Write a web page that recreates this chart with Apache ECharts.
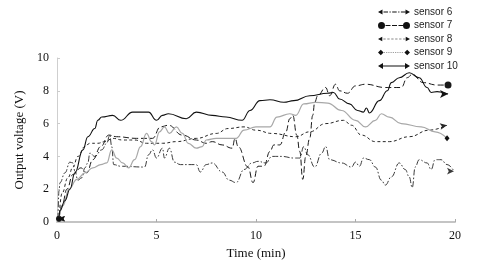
<!DOCTYPE html>
<html><head><meta charset="utf-8">
<script src="https://cdn.jsdelivr.net/npm/echarts@6/dist/echarts.min.js"></script>
<style>html,body{margin:0;padding:0;background:#fff}#c{width:480px;height:279px}</style>
</head><body><div id="c"></div>
<script>
// ---- data ----
const seriesNames = ['sensor 6','sensor 7','sensor 8','sensor 9','sensor 10'];
const xTicks = [0,5,10,15,20];
const yTicks = [0,2,4,6,8,10];

const t6 = [0.05,0.1,0.15,0.4,0.65,0.8,0.9,1.05,1.25,1.4,1.55,1.65,1.9,2.25,2.5,2.65,2.75,2.85,3.2,4.4,4.6,4.8,5.0,5.3,5.4,5.65,5.9,6.2,7.0,7.2,7.5,7.8,8.3,8.65,9.0,9.4,9.8,10.1,10.5,10.8,11.3,11.9,12.2,12.4,12.6,12.95,13.3,13.5,13.7,14.3,14.8,15.0,15.2,15.4,15.7,16.0,16.3,16.5,16.8,17.2,17.5,17.7,17.85,18.0,18.2,18.6,18.8,19.0,19.3,19.6,19.95];
const v6 = [0.2,1.9,2.4,3.0,3.65,3.6,3.1,2.55,2.7,3.3,3.6,4.2,4.0,4.4,4.8,5.3,4.6,3.5,3.4,3.35,4.1,4.4,3.9,4.5,3.9,4.5,3.65,3.5,3.5,3.05,3.5,3.6,3.05,2.55,2.4,3.2,3.6,3.7,3.6,4.0,4.0,3.9,3.9,4.6,4.1,3.35,4.2,4.6,3.8,3.6,3.35,3.65,3.4,3.9,3.8,3.35,2.55,2.25,2.75,3.6,3.2,2.75,2.1,3.35,3.8,3.6,3.2,3.8,3.8,3.5,3.1];

const t7 = [0.1,0.25,0.5,0.8,1.2,1.5,1.8,2.2,2.6,3.0,4.0,4.8,5.2,5.6,6.3,7.0,7.5,7.8,8.3,8.8,8.95,9.1,9.6,9.85,10.1,10.4,10.7,10.9,11.2,11.5,11.7,11.85,12.05,12.2,12.35,12.5,12.7,12.85,12.95,13.1,13.5,13.7,14.0,14.2,14.6,15.0,15.5,16.5,17.3,17.6,17.85,18.4,19.1,19.65];
const v7 = [0.2,1.0,2.0,2.9,3.3,3.0,3.8,4.6,5.3,5.2,5.1,5.1,5.8,5.9,5.3,5.0,4.8,4.9,4.7,4.5,5.1,4.6,3.35,2.4,3.4,3.4,4.3,4.7,4.7,5.5,6.3,6.5,5.3,4.3,2.6,4.0,5.1,6.5,7.3,7.7,8.2,7.7,8.4,8.0,7.85,8.3,8.4,8.2,8.2,8.8,9.0,8.5,8.35,8.35];

const t8 = [0.1,0.25,0.55,0.8,1.05,1.4,1.65,2.05,2.4,2.8,3.3,3.9,4.5,5.3,6.0,7.0,8.0,8.6,9.4,10.0,10.8,12.0,12.7,13.5,14.4,14.8,15.3,16.0,16.7,17.7,18.7,19.6];
const v8 = [0.2,1.75,2.7,3.35,4.0,4.6,4.8,4.8,4.9,5.1,5.0,5.0,4.8,4.8,4.9,5.1,5.4,5.7,5.8,5.6,5.4,5.2,5.5,6.0,6.2,5.9,5.3,4.9,4.9,5.2,5.6,5.9];

const t9 = [0.1,0.3,0.6,1.0,1.4,1.8,2.2,2.5,2.75,3.0,3.3,3.6,3.9,4.2,4.5,4.75,4.9,5.15,5.4,5.65,6.0,6.3,6.6,7.0,7.3,7.5,8.0,9.0,9.4,10.0,10.7,11.05,11.7,12.0,12.4,13.0,13.6,14.3,15.0,15.5,16.0,16.3,16.7,17.3,18.3,19.0,19.6];
const v9 = [0.2,1.0,2.0,2.6,3.0,3.3,3.5,3.6,4.4,3.9,3.6,3.3,3.8,4.6,5.4,4.9,4.7,5.5,5.8,5.4,5.8,5.4,4.8,4.5,4.6,5.0,5.1,5.1,5.6,5.8,5.8,6.4,6.6,6.5,7.2,7.3,7.25,6.8,6.2,5.8,6.2,6.6,6.4,6.0,5.8,5.5,5.1];

const t10 = [0.1,0.15,0.4,0.65,0.9,1.3,1.55,1.9,2.05,2.25,2.8,3.2,3.8,4.6,5.0,5.3,5.6,6.5,7.0,7.8,8.5,9.3,9.7,10.2,10.7,11.4,11.9,12.7,13.6,13.9,14.2,14.7,15.1,15.4,15.55,15.7,16.2,16.6,16.8,17.2,17.7,18.2,18.6,18.8,19.1,19.65];
const v10 = [0.2,0.7,1.3,2.0,3.0,4.4,5.2,5.7,6.2,6.4,6.5,6.2,6.7,6.7,6.2,6.5,6.6,6.3,6.7,6.5,6.4,6.2,6.8,7.4,7.45,7.3,7.4,7.7,7.85,7.9,7.5,7.2,6.8,6.7,6.95,6.65,7.4,8.0,8.5,8.8,9.1,8.8,8.2,7.9,7.95,7.8];

// ---- build ----
function pairs(t, v){ const n = Math.min(t.length, v.length); const out=[]; for(let i=0;i<n;i++) out.push([t[i], v[i]]); return out; }
function withEnds(d, startSym, endSym){
  const out = d.map(p => ({value:p}));
  out[0] = Object.assign({value:d[0]}, startSym);
  out[out.length-1] = Object.assign({value:d[d.length-1]}, endSym);
  return out;
}
const arrowR = (rot, size) => ({symbol:'arrow', symbolSize:size||[5,7], symbolRotate:rot});
const circ = {symbol:'circle', symbolSize:6};
const diam = {symbol:'diamond', symbolSize:[5,6]};

const lineDefs = [
  {t:t6, v:v6, color:'#3a3a3a', type:[6,2,1.5,2], width:1, s:arrowR(90,[4,6]), e:arrowR(-90)},
  {t:t7, v:v7, color:'#1a1a1a', type:[6,3], width:1, s:circ, e:{symbol:'circle', symbolSize:7}},
  {t:t8, v:v8, color:'#262626', type:[3,2.5], width:1, s:arrowR(90,[4,6]), e:arrowR(-80)},
  {t:t9, v:v9, color:'#a8a8a8', type:'solid', width:1.2, s:diam, e:{symbol:'diamond', symbolSize:[5,6], itemStyle:{color:'#111'}}},
  {t:t10, v:v10, color:'#111111', type:'solid', width:1.1, s:arrowR(90,[4,6]), e:arrowR(-90,[6,8])}
];

const series = lineDefs.map((d,i) => ({
  name: seriesNames[i], type:'line', data: withEnds(pairs(d.t,d.v), d.s, d.e),
  showSymbol:true, symbol:'none', smooth:0.45, smoothMonotone:'x',
  lineStyle:{color:d.color, width:d.width, type:d.type},
  itemStyle:{color: i===3 ? '#111' : d.color},
  emphasis:{disabled:true}, animation:false, z: 2+i
}));

// legend icons (box 320 x 80 -> itemWidth 32, itemHeight 8)
const icons = [
  'path://M0,40L45,15L45,65Z M275,15L320,40L275,65Z M55,36h45v8h-45Z M115,36h12v8h-12Z M142,36h45v8h-45Z M202,36h12v8h-12Z M229,36h45v8h-45Z',
  'path://M0,40A35,35 0 1,0 70,40A35,35 0 1,0 0,40Z M250,40A35,35 0 1,0 320,40A35,35 0 1,0 250,40Z M75,36h50v8h-50Z M140,36h50v8h-50Z M205,36h45v8h-45Z',
  'path://M10,40L50,18L50,62Z M270,18L310,40L270,62Z M60,37h22v6h-22Z M97,37h22v6h-22Z M134,37h22v6h-22Z M171,37h22v6h-22Z M208,37h22v6h-22Z M245,37h22v6h-22Z',
  'path://M0,40L28,12L56,40L28,68Z M264,40L292,12L320,40L292,68Z M62,37h8v6h-8Z M80,37h8v6h-8Z M98,37h8v6h-8Z M116,37h8v6h-8Z M134,37h8v6h-8Z M152,37h8v6h-8Z M170,37h8v6h-8Z M188,37h8v6h-8Z M206,37h8v6h-8Z M224,37h8v6h-8Z M242,37h8v6h-8Z',
  'path://M0,40L50,10L50,70Z M270,10L320,40L270,70Z M45,34h230v12h-230Z'
];

const option = {
  backgroundColor:'#ffffff',
  animation:false,
  grid:{left:57, right:25, top:58, bottom:57, containLabel:false},
  legend:{
    orient:'vertical', left:373, top:1, itemWidth:32, itemHeight:8, itemGap:1.5,
    textStyle:{fontFamily:'Liberation Sans', fontSize:10, color:'#222', lineHeight:12, padding:[0,0,0,-1]},
    itemStyle:{borderWidth:0},
    data: seriesNames.map((n,i)=>({name:n, icon:icons[i], itemStyle:{color:'#111', borderWidth:0}}))
  },
  xAxis:{
    type:'value', min:0, max:20, interval:5,
    name:'Time (min)', nameLocation:'middle', nameGap:24,
    nameTextStyle:{fontFamily:'Liberation Serif', fontSize:13, color:'#111'},
    axisLine:{show:true, lineStyle:{color:'#c4c4c4', width:2}},
    axisTick:{show:true, inside:true, length:3, lineStyle:{color:'#aaa'}},
    axisLabel:{fontFamily:'Liberation Serif', fontSize:12, color:'#111', margin:8,
      formatter: v => xTicks.includes(v) ? String(v) : ''},
    splitLine:{show:false}
  },
  yAxis:{
    type:'value', min:0, max:10, interval:2,
    name:'Output voltage (V)', nameLocation:'middle', nameGap:25, nameRotate:90,
    nameTextStyle:{fontFamily:'Liberation Serif', fontSize:13, color:'#111'},
    axisLine:{show:true, lineStyle:{color:'#cfcfcf', width:1}},
    axisTick:{show:true, inside:true, length:3, lineStyle:{color:'#ccc'}},
    axisLabel:{fontFamily:'Liberation Serif', fontSize:12, color:'#111', margin:8,
      formatter: v => yTicks.includes(v) ? String(v) : ''},
    splitLine:{show:false}
  },
  series: series
};
const chart = echarts.init(document.getElementById('c'), null, {renderer:'canvas'});
chart.setOption(option);
</script></body></html>
